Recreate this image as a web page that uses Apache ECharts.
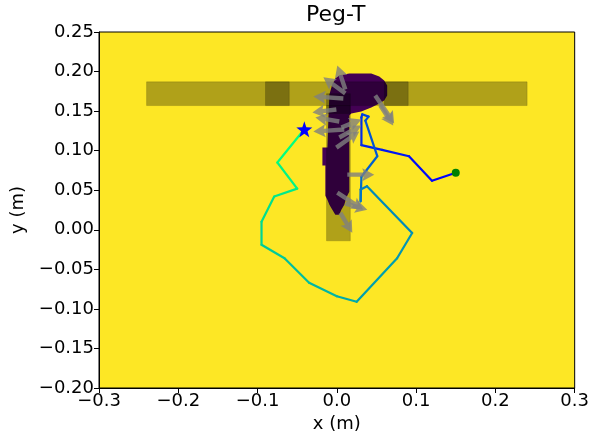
<!DOCTYPE html>
<html>
<head>
<meta charset="utf-8">
<script src="https://cdn.jsdelivr.net/npm/echarts@6/dist/echarts.min.js"></script>
<style>
  html, body { margin: 0; padding: 0; background: #fff; }
  #main { width: 592px; height: 440px; }
</style>
</head>
<body>
<div id="main"></div>
<script>
// axis ticks
var xTicks = [-0.3, -0.2, -0.1, 0.0, 0.1, 0.2, 0.3];
var yTicks = [-0.20, -0.15, -0.10, -0.05, 0.00, 0.05, 0.10, 0.15, 0.20, 0.25];

// goal T (pieces drawn with transparency, overlaps get darker) [x0, y0, x1, y1]
var goalRects = [
  [-0.24, 0.157, -0.06, 0.187],
  [-0.09, 0.157, 0.09, 0.187],
  [0.06, 0.157, 0.24, 0.187],
  [-0.013, -0.014, 0.017, 0.157],
  [-0.013, 0.147, 0.017, 0.172]
];

// outline of the dark (value 0) region of the map
var darkRegion = [
  [0.0031, 0.1952], [0.0157, 0.1977], [0.0434, 0.1977], [0.0535, 0.1939],
  [0.0597, 0.1888], [0.0635, 0.1825], [0.0635, 0.1698], [0.0597, 0.1635],
  [0.0535, 0.1597], [0.0434, 0.1546], [0.0308, 0.1496], [0.0182, 0.1470],
  [0.0157, 0.1445], [0.0157, 0.0482], [0.0119, 0.0406], [0.0094, 0.0317],
  [0.0057, 0.0253], [0.0031, 0.0190], [-0.0019, 0.0190], [-0.0057, 0.0253],
  [-0.0094, 0.0317], [-0.0119, 0.0380], [-0.0145, 0.0431], [-0.0145, 0.0811],
  [-0.0182, 0.0811], [-0.0182, 0.1039], [-0.0119, 0.1039], [-0.0107, 0.1394],
  [-0.0094, 0.1711], [-0.0057, 0.1838], [-0.0019, 0.1914]
];

// trajectory, start -> end
var trajX = [0.150, 0.120, 0.091, 0.057, 0.031, 0.031, 0.032, 0.040, 0.036, 0.051,
             0.031, 0.030, 0.030, 0.038, 0.095, 0.076, 0.025, 0.000, -0.035, -0.066,
             -0.095, -0.095, -0.079, -0.050, -0.075, -0.041];
var trajY = [0.072, 0.062, 0.093, 0.101, 0.107, 0.142, 0.146, 0.143, 0.138, 0.093,
             0.067, 0.036, 0.051, 0.055, -0.004, -0.036, -0.091, -0.084, -0.067, -0.036,
             -0.019, 0.010, 0.042, 0.052, 0.085, 0.127];

// quiver arrows [x, y, dx, dy]
var arrows = [
  [0.0107, 0.1774, -0.0101, 0.0304],
  [0.0107, 0.1724, -0.0277, 0.0203],
  [0.0082, 0.1660, -0.0377, 0.0025],
  [-0.0006, 0.1521, -0.0302, -0.0038],
  [0.0094, 0.1267, -0.0390, -0.0025],
  [0.0031, 0.1369, -0.0302, 0.0051],
  [-0.0006, 0.1039, 0.0289, 0.0203],
  [0.0031, 0.1166, 0.0277, 0.0152],
  [0.0057, 0.1293, 0.0252, 0.0101],
  [0.0484, 0.1698, 0.0239, -0.0355],
  [0.0547, 0.1572, 0.0164, -0.0253],
  [0.0132, 0.0697, 0.0340, 0.0000],
  [0.0006, 0.0469, 0.0327, -0.0215],
  [0.0107, 0.0330, 0.0277, -0.0076],
  [0.0044, 0.0215, 0.0151, -0.0253]
];

function fmt(v, d) {
  if (Math.abs(v) < 1e-9) v = 0;
  return v.toFixed(d).replace('-', '\u2212');
}

// winter colormap
function winter(t) {
  return 'rgb(0,' + Math.round(255 * t) + ',' + Math.round(255 * (1 - 0.5 * t)) + ')';
}

var segs = [];
for (var i = 0; i < trajX.length - 1; i++) {
  segs.push([trajX[i], trajY[i], trajX[i + 1], trajY[i + 1], i / (trajX.length - 2)]);
}

var starPath = 'path://M0,-10 L2.35,-3.24 L9.51,-3.09 L3.8,1.24 L5.88,8.09 L0,4 L-5.88,8.09 L-3.8,1.24 L-9.51,-3.09 L-2.35,-3.24 Z';
var font = 'DejaVu Sans';

var chart = echarts.init(document.getElementById('main'), null, { renderer: 'canvas' });
chart.setOption({
  animation: false,
  // title centred over the plot area, not the whole canvas
  graphic: [{
    type: 'text', left: 337 - 31, top: 4,
    style: { text: 'Peg-T', font: '22px "DejaVu Sans"', fill: '#000' }
  }],
  grid: {
    left: 99, right: 16, top: 32, bottom: 52,
    show: true, backgroundColor: '#fde725', borderColor: '#000', borderWidth: 1
  },
  xAxis: {
    type: 'value',
    min: xTicks[0], max: xTicks[xTicks.length - 1], interval: 0.1,
    name: 'x (m)', nameLocation: 'middle', nameGap: 27,
    nameTextStyle: { fontFamily: font, fontSize: 18, color: '#000' },
    axisLine: { show: true, onZero: false, lineStyle: { color: '#000', width: 1 } },
    axisTick: { show: true, length: 5, lineStyle: { color: '#000' } },
    axisLabel: { fontFamily: font, fontSize: 18, color: '#000', margin: 4,
      formatter: function (v) { return fmt(v, 1); } },
    splitLine: { show: false }
  },
  yAxis: {
    type: 'value',
    min: yTicks[0], max: yTicks[yTicks.length - 1], interval: 0.05,
    name: 'y (m)', nameLocation: 'middle', nameGap: 72, nameRotate: 90,
    nameTextStyle: { fontFamily: font, fontSize: 18, color: '#000' },
    axisLine: { show: true, onZero: false, lineStyle: { color: '#000', width: 1 } },
    axisTick: { show: true, length: 5, lineStyle: { color: '#000' } },
    axisLabel: { fontFamily: font, fontSize: 18, color: '#000', margin: 5,
      formatter: function (v) { return fmt(v, 2); } },
    splitLine: { show: false }
  },
  series: [
    {
      type: 'custom', z: 1, clip: true,
      data: [[0, 0]],
      renderItem: function (params, api) {
        var pts = darkRegion.map(function (p) { return api.coord(p); });
        return { type: 'polygon', shape: { points: pts }, style: { fill: '#440154' } };
      }
    },
    {
      type: 'custom', z: 2, clip: true,
      data: goalRects,
      renderItem: function (params, api) {
        var a = api.coord([api.value(0), api.value(3)]);
        var b = api.coord([api.value(2), api.value(1)]);
        return {
          type: 'rect',
          shape: { x: a[0], y: a[1], width: b[0] - a[0], height: b[1] - a[1] },
          style: { fill: 'rgba(0,0,0,0.3)', stroke: 'rgba(0,0,0,0.15)', lineWidth: 1 }
        };
      }
    },
    {
      type: 'custom', z: 3, clip: true,
      data: segs,
      renderItem: function (params, api) {
        var a = api.coord([api.value(0), api.value(1)]);
        var b = api.coord([api.value(2), api.value(3)]);
        return {
          type: 'line',
          shape: { x1: a[0], y1: a[1], x2: b[0], y2: b[1] },
          style: { stroke: winter(api.value(4)), lineWidth: 2.2, lineCap: 'round' }
        };
      }
    },
    {
      type: 'custom', z: 4, clip: true,
      data: arrows,
      renderItem: function (params, api) {
        var p0 = api.coord([api.value(0), api.value(1)]);
        var p1 = api.coord([api.value(0) + api.value(2), api.value(1) + api.value(3)]);
        var dx = p1[0] - p0[0], dy = p1[1] - p0[1];
        var L = Math.sqrt(dx * dx + dy * dy);
        var ux = dx / L, uy = dy / L, nx = -uy, ny = ux;
        var w = 2.2, hw = 6.5, hl = 12, ha = 10.5;
        function pt(s, t) { return [p0[0] + ux * s + nx * t, p0[1] + uy * s + ny * t]; }
        var pts = [pt(0, -w), pt(L - ha, -w), pt(L - hl, -hw), pt(L, 0),
                   pt(L - hl, hw), pt(L - ha, w), pt(0, w)];
        return { type: 'polygon', shape: { points: pts }, style: { fill: 'rgba(128,128,128,0.8)' } };
      }
    },
    {
      type: 'scatter', z: 5,
      data: [[trajX[0], trajY[0]]],
      symbol: 'circle', symbolSize: 8,
      itemStyle: { color: '#008000', opacity: 1 }
    },
    {
      type: 'scatter', z: 5,
      data: [[trajX[trajX.length - 1], trajY[trajY.length - 1]]],
      symbol: starPath, symbolSize: 16,
      itemStyle: { color: '#0000ff', opacity: 1 }
    }
  ]
});
</script>
</body>
</html>
